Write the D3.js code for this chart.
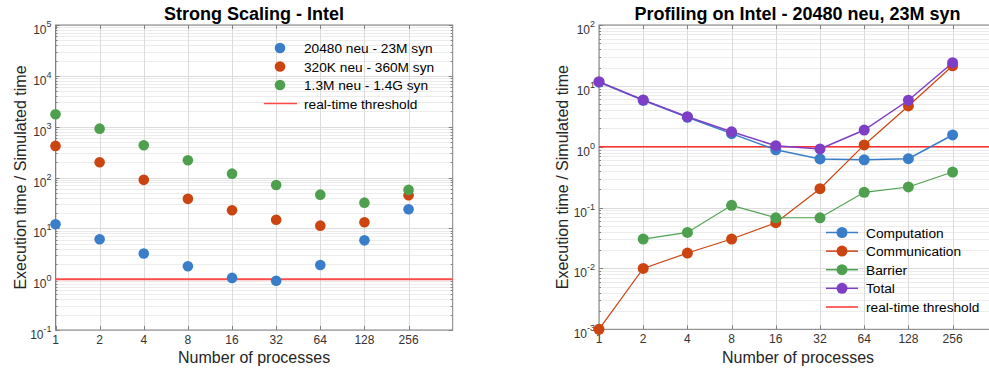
<!DOCTYPE html>
<html><head><meta charset="utf-8">
<script src="https://cdn.jsdelivr.net/npm/d3@7"></script>
<style>body{margin:0;background:#fff}svg{display:block;font-family:"Liberation Sans",Arial,sans-serif}</style>
</head><body><svg id="c" width="989" height="372"></svg>
<script>
// ---------- data ----------
const procs = [1, 2, 4, 8, 16, 32, 64, 128, 256];
const xTickLabels = ["1", "2", "4", "8", "16", "32", "64", "128", "256"];

// Strong scaling (left)
const scalingNames = ["20480 neu - 23M syn", "320K neu - 360M syn", "1.3M neu - 1.4G syn"];
const small20480 = [12, 6.1, 3.2, 1.8, 1.06, 0.93, 1.9, 5.8, 23.8];
const mid320K = [418, 200, 90, 38, 22.7, 14.8, 11.3, 13.2, 45];
const large13M = [1760, 915, 432, 219, 119, 71, 46, 32, 57];
const leftYExponents = [-1, 0, 1, 2, 3, 4, 5];

// Profiling (right)
const profNames = ["Computation", "Communication", "Barrier", "Total"];
const computation = [11.5, 5.8, 3.05, 1.64, 0.89, 0.63, 0.61, 0.635, 1.56];
const communication = [0.001, 0.01, 0.0179, 0.0304, 0.0564, 0.204, 1.07, 4.67, 21.4];
const barrierProcs = [2, 4, 8, 16, 32, 64, 128, 256];
const barrier = [0.0304, 0.039, 0.109, 0.068, 0.068, 0.178, 0.218, 0.384];
const total = [11.7, 5.85, 3.11, 1.76, 1.04, 0.92, 1.88, 5.8, 24];
const rightYExponents = [-3, -2, -1, 0, 1, 2];

const threshold = 1;
const thresholdName = "real-time threshold";

// ---------- style ----------
const colors = {blue: "#3a7dc9", orange: "#cc4410", green: "#4ea04f", purple: "#7e3fc6", red: "#ff3030"};
const svg = d3.select("#c");

function panel(opts) {
  const {x0, x1, y0, y1, yDomain, yExps, title, titleX} = opts;
  const x = d3.scaleLog().base(2).domain([1, 512]).range([x0, x1]);
  const y = d3.scaleLog().domain(yDomain).range([y1, y0]);
  const g = svg.append("g");
  const clipId = "clip" + Math.round(x0);
  svg.append("clipPath").attr("id", clipId).append("rect")
    .attr("x", x0).attr("y", y0).attr("width", x1 - x0).attr("height", y1 - y0);

  // minor horizontal grid
  const minors = [];
  for (let e = yExps[0]; e < yExps[yExps.length - 1]; e++)
    for (let k = 2; k <= 9; k++) minors.push(k * Math.pow(10, e));
  g.selectAll(".mg").data(minors).join("line")
    .attr("x1", x0).attr("x2", x1).attr("y1", d => Math.round(y(d)) + 0.5).attr("y2", d => Math.round(y(d)) + 0.5)
    .attr("stroke", "#ececec").attr("stroke-width", 1);
  // major grid
  g.selectAll(".Mg").data(yExps.map(e => Math.pow(10, e))).join("line")
    .attr("x1", x0).attr("x2", x1).attr("y1", d => Math.round(y(d)) + 0.5).attr("y2", d => Math.round(y(d)) + 0.5)
    .attr("stroke", "#dcdcdc").attr("stroke-width", 1);
  g.selectAll(".Vg").data(procs).join("line")
    .attr("x1", d => Math.round(x(d)) + 0.5).attr("x2", d => Math.round(x(d)) + 0.5).attr("y1", y0).attr("y2", y1)
    .attr("stroke", "#dcdcdc").attr("stroke-width", 1);

  // frame
  g.append("rect").attr("x", x0).attr("y", y0).attr("width", x1 - x0).attr("height", y1 - y0)
    .attr("fill", "none").attr("stroke", "#808080").attr("stroke-width", 1);
  // ticks
  const tl = 4;
  procs.forEach(p => {
    const xx = Math.round(x(p)) + 0.5;
    g.append("line").attr("x1", xx).attr("x2", xx).attr("y1", y1).attr("y2", y1 - tl).attr("stroke", "#808080");
    g.append("line").attr("x1", xx).attr("x2", xx).attr("y1", y0).attr("y2", y0 + tl).attr("stroke", "#808080");
  });
  yExps.forEach(e => {
    const yy = Math.round(y(Math.pow(10, e))) + 0.5;
    g.append("line").attr("x1", x0).attr("x2", x0 + tl).attr("y1", yy).attr("y2", yy).attr("stroke", "#808080");
    g.append("line").attr("x1", x1).attr("x2", x1 - tl).attr("y1", yy).attr("y2", yy).attr("stroke", "#808080");
  });
  minors.forEach(m => {
    const yy = Math.round(y(m)) + 0.5;
    g.append("line").attr("x1", x0).attr("x2", x0 + 2).attr("y1", yy).attr("y2", yy).attr("stroke", "#808080");
    g.append("line").attr("x1", x1).attr("x2", x1 - 2).attr("y1", yy).attr("y2", yy).attr("stroke", "#808080");
  });

  // x tick labels
  g.selectAll(".xl").data(procs).join("text")
    .attr("x", d => x(d)).attr("y", y1 + 13.5).attr("text-anchor", "middle")
    .attr("font-size", 12).attr("fill", "#333").text((d, i) => xTickLabels[i]);
  // y tick labels
  yExps.forEach(e => {
    const t = g.append("text").attr("x", x0 - 4).attr("y", y(Math.pow(10, e)) + 9)
      .attr("text-anchor", "end").attr("font-size", 12).attr("fill", "#333");
    t.append("tspan").text("10");
    t.append("tspan").attr("font-size", 9).attr("dy", -7).text(String(e));
  });

  // title & labels
  svg.append("text").attr("x", titleX).attr("y", 20).attr("text-anchor", "middle")
    .attr("font-size", 18).attr("font-weight", "bold").attr("fill", "#000").text(title);
  svg.append("text").attr("x", (x0 + Math.min(x1, 989)) / 2 + (opts.xlabShift || 0)).attr("y", 363).attr("text-anchor", "middle")
    .attr("font-size", 16).attr("fill", "#262626").text("Number of processes");
  svg.append("text").attr("transform", `translate(${opts.ylabX},${(y0 + y1) / 2}) rotate(-90)`)
    .attr("text-anchor", "middle").attr("font-size", 16).attr("fill", "#262626")
    .text("Execution time / Simulated time");

  return {x, y, g, clip: `url(#${clipId})`};
}

// ---------- left panel ----------
const L = panel({x0: 55.5, x1: 452.7, y0: 25, y1: 330, yDomain: [0.1, 1e5], yExps: leftYExponents,
  title: "Strong Scaling - Intel", titleX: 254, ylabX: 25.5});
L.g.append("line").attr("x1", 55.5).attr("x2", 452.7).attr("y1", L.y(threshold)).attr("y2", L.y(threshold))
  .attr("stroke", "#ff4a4a").attr("stroke-width", 2);
[[small20480, colors.blue], [mid320K, colors.orange], [large13M, colors.green]].forEach(([vals, c]) => {
  L.g.append("g").selectAll("circle").data(vals).join("circle")
    .attr("cx", (d, i) => L.x(procs[i])).attr("cy", d => L.y(d)).attr("r", 5.3).attr("fill", c);
});
// left legend
const legL = svg.append("g");
[colors.blue, colors.orange, colors.green].forEach((c, i) => {
  const yy = 48 + i * 18.5;
  legL.append("circle").attr("cx", 280).attr("cy", yy).attr("r", 5.3).attr("fill", c);
  legL.append("text").attr("x", 304).attr("y", yy + 5).attr("font-size", 13.7).attr("fill", "#000").text(scalingNames[i]);
});
legL.append("line").attr("x1", 264).attr("x2", 297).attr("y1", 103.5).attr("y2", 103.5).attr("stroke", "#ff4a4a").attr("stroke-width", 1.5);
legL.append("text").attr("x", 304).attr("y", 108.5).attr("font-size", 13.7).attr("fill", "#000").text(thresholdName);

// ---------- right panel ----------
const R = panel({x0: 599, x1: 996.8, y0: 25, y1: 329.3, yDomain: [1e-3, 1e2], yExps: rightYExponents,
  title: "Profiling on Intel - 20480 neu, 23M syn", titleX: 797.5, ylabX: 568, xlabShift: 4});
R.g.append("line").attr("x1", 599).attr("x2", 996.8).attr("y1", R.y(threshold)).attr("y2", R.y(threshold))
  .attr("stroke", colors.red).attr("stroke-width", 1.5);
const profSeries = [
  [procs, computation, colors.blue, 1.5],
  [procs, communication, colors.orange, 1.2],
  [barrierProcs, barrier, colors.green, 1.2],
  [procs, total, colors.purple, 1.5]
];
const plotG = R.g.append("g").attr("clip-path", R.clip);
profSeries.forEach(([xs, vals, c, w]) => {
  const line = d3.line().x((d, i) => R.x(xs[i])).y(d => R.y(d));
  plotG.append("path").attr("d", line(vals)).attr("fill", "none").attr("stroke", c).attr("stroke-width", w);
});
profSeries.forEach(([xs, vals, c]) => {
  R.g.append("g").selectAll("circle").data(vals).join("circle")
    .attr("cx", (d, i) => R.x(xs[i])).attr("cy", d => R.y(d)).attr("r", 5.5).attr("fill", c);
});
// right legend
const legR = svg.append("g");
profSeries.forEach(([xs, vals, c], i) => {
  const yy = 232.5 + i * 18.6;
  legR.append("line").attr("x1", 826).attr("x2", 858).attr("y1", yy).attr("y2", yy).attr("stroke", c).attr("stroke-width", 1.5);
  legR.append("circle").attr("cx", 842).attr("cy", yy).attr("r", 5.5).attr("fill", c);
  legR.append("text").attr("x", 866).attr("y", yy + 5).attr("font-size", 13.7).attr("fill", "#000").text(profNames[i]);
});
legR.append("line").attr("x1", 826).attr("x2", 858).attr("y1", 307).attr("y2", 307).attr("stroke", colors.red).attr("stroke-width", 1.5);
legR.append("text").attr("x", 866).attr("y", 312).attr("font-size", 13.7).attr("fill", "#000").text(thresholdName);
</script></body></html>
